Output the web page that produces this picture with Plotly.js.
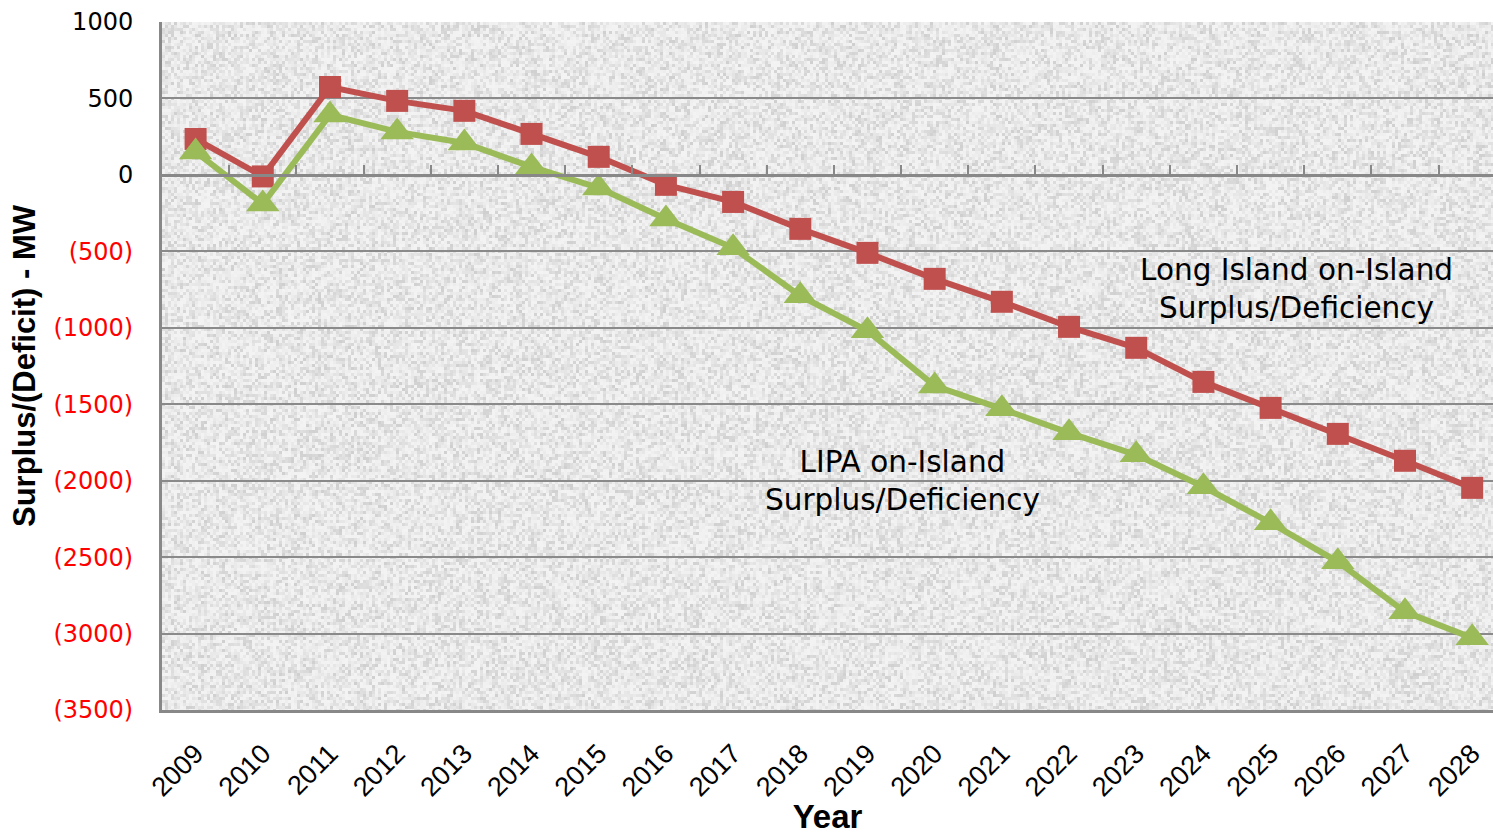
<!DOCTYPE html>
<html>
<head>
<meta charset="utf-8">
<script src="https://cdn.plot.ly/plotly-3.0.1.min.js"></script>
<style>html,body{margin:0;padding:0;background:#fff;}#chart{width:1493px;height:835px;}</style>
</head>
<body>
<div id="chart"></div>
<script>
const years = ["2009","2010","2011","2012","2013","2014","2015","2016","2017","2018","2019","2020","2021","2022","2023","2024","2025","2026","2027","2028"];
const longIsland = [235, -10, 575, 484, 419, 268, 118, -65, -177, -353, -510, -680, -830, -994, -1131, -1354, -1524, -1694, -1870, -2047];
const lipa = [150, -190, 392, 281, 209, 52, -85, -288, -477, -791, -1020, -1380, -1530, -1687, -1831, -2040, -2276, -2531, -2858, -3028];
const yTickVals = [1000, 500, 0, -500, -1000, -1500, -2000, -2500, -3000, -3500];
const yTickText = yTickVals.map(v => v < 0 ? '<span style="color:#ff0000">(' + (-v) + ')</span>' : String(v));

// decorative granite-like background texture (deterministic hash, not data)
function makeTexture(w, h, cell) {
  const c = document.createElement('canvas');
  c.width = w; c.height = h;
  const ctx = c.getContext('2d');
  function hash(i, j) {
    let n = (Math.imul(i, 374761393) + Math.imul(j, 668265263)) >>> 0;
    n = Math.imul(n ^ (n >>> 13), 1274126177) >>> 0;
    n = (n ^ (n >>> 16)) >>> 0;
    return n / 4294967296;
  }
  for (let i = 0; i < w / cell; i++) {
    for (let j = 0; j < h / cell; j++) {
      const r = hash(i + 17, j + 31);
      const v = Math.round(243 - 36 * r * r);
      ctx.fillStyle = 'rgb(' + v + ',' + v + ',' + v + ')';
      ctx.fillRect(i * cell, j * cell, cell, cell);
    }
  }
  return c.toDataURL('image/png');
}
const texture = makeTexture(1331, 688, 3);

const traces = [
  {x: years, y: longIsland, type: 'scatter', mode: 'lines+markers', name: 'Long Island on-Island Surplus/Deficiency',
   line: {color: '#C0504D', width: 6}, marker: {symbol: 'square', size: 22, color: '#C0504D'}},
  {x: years, y: lipa, type: 'scatter', mode: 'lines+markers', name: 'LIPA on-Island Surplus/Deficiency',
   line: {color: '#9BBB59', width: 6}, marker: {symbol: 'triangle-up', size: 29, color: '#9BBB59'}},
  {x: [], y: [], xaxis: 'x2', yaxis: 'y', type: 'scatter', mode: 'markers', showlegend: false, hoverinfo: 'skip'}
];

const layout = {
  width: 1493, height: 835,
  margin: {l: 162, r: 0, t: 22, b: 125},
  paper_bgcolor: '#ffffff',
  plot_bgcolor: '#e6e6e6',
  showlegend: false,
  font: {family: 'Liberation Sans, Arial, sans-serif', color: '#000'},
  images: [{source: texture, xref: 'paper', yref: 'paper', x: 0, y: 1, sizex: 1, sizey: 1,
            sizing: 'stretch', xanchor: 'left', yanchor: 'top', layer: 'below'}],
  xaxis: {
    type: 'category', range: [-0.5, 19.31],
    tickangle: -45, tickfont: {size: 27, family: 'Liberation Sans, Arial, sans-serif'},
    ticks: 'outside', ticklen: 14, tickcolor: 'rgba(0,0,0,0)',
    showgrid: false, zeroline: false,
    showline: true, linecolor: '#888888', linewidth: 3,
    title: {text: '<b>Year</b>', font: {size: 33, family: 'Liberation Sans, Arial, sans-serif'}, standoff: 10}
  },
  xaxis2: {
    type: 'linear', overlaying: 'x', anchor: 'free', position: 3500/4500, side: 'bottom',
    range: [-0.5, 19.31], tick0: 0.5, dtick: 1, tickmode: 'linear',
    ticks: 'inside', ticklen: 9, tickwidth: 2, tickcolor: '#888888',
    showticklabels: false, showgrid: false, zeroline: false,
    showline: true, linecolor: '#888888', linewidth: 3
  },
  yaxis: {
    range: [-3500, 1000], tickvals: yTickVals, ticktext: yTickText,
    tickfont: {size: 24, family: 'DejaVu Sans, sans-serif', color: '#000'},
    ticks: 'outside', ticklen: 21, tickcolor: 'rgba(0,0,0,0)',
    showgrid: true, gridcolor: '#8a8a8a', gridwidth: 2,
    zeroline: false,
    showline: true, linecolor: '#888888', linewidth: 3,
    title: {text: '<b>Surplus/(Deficit) - MW</b>', font: {size: 31, family: 'Liberation Sans, Arial, sans-serif'}, standoff: 9}
  },
  annotations: [
    {xref: 'paper', yref: 'y', x: (1296-162)/1331, y: -746, xanchor: 'center', yanchor: 'middle',
     text: 'Long Island on-Island<br>Surplus/Deficiency',
     showarrow: false, font: {size: 29.5, family: 'DejaVu Sans, sans-serif', color: '#000'}, align: 'center'},
    {xref: 'paper', yref: 'y', x: (902-162)/1331, y: -2001, xanchor: 'center', yanchor: 'middle',
     text: 'LIPA on-Island<br>Surplus/Deficiency',
     showarrow: false, font: {size: 29.5, family: 'DejaVu Sans, sans-serif', color: '#000'}, align: 'center'}
  ]
};

Plotly.newPlot('chart', traces, layout, {displayModeBar: false, staticPlot: true});
</script>
</body>
</html>
